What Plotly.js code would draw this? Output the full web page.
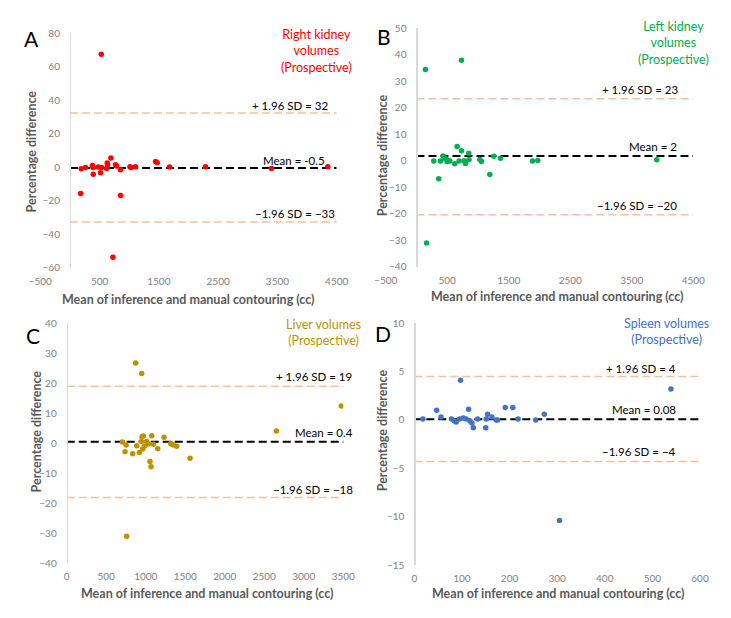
<!DOCTYPE html>
<html>
<head>
<meta charset="utf-8">
<script src="https://cdn.plot.ly/plotly-3.0.1.min.js"></script>
<style>html,body{margin:0;padding:0;background:#fff;}#chart{width:731px;height:618px;}</style>
</head>
<body>
<div id="chart"></div>
<script>
// ---- Data ----
// Panel A: Right kidney volumes
const rkX = [528, 190, 180, 263, 380, 388, 393, 480, 516, 533, 618, 629, 635, 691, 769, 786, 853, 853, 725, 1012, 1030, 1106, 1444, 1472, 1680, 2287, 3400, 4350];
const rkY = [67.3, -1, -15.8, -0.2, 1, -0.2, -4.2, 0, -3.4, -0.2, -0.8, 2.4, 1.2, 5.4, 1.4, 0.6, -1.6, -17, -53.8, 0.2, -0.2, 0.2, 3.4, 2.6, 0, 0.2, -0.8, 0.2];
const rkLimits = [-0.5, 32.3, -32.8]; // mean, +1.96SD, -1.96SD

// Panel B: Left kidney volumes
const lkX = [146, 731, 163, 363, 281, 390, 433, 460, 488, 498, 530, 542, 623, 660, 693, 732, 774, 797, 850, 855, 1029, 1057, 1192, 1257, 1366, 1885, 1972, 3906];
const lkY = [34.4, 37.9, -31.1, -6.8, -0.1, -0.1, 1.8, 0.9, 0.5, -0.3, 0, -0.1, -1.1, 5.4, -0.1, 3.8, 0, -1, 2.8, 0.4, 0.5, -0.3, -5.2, 1.7, 0.9, -0.1, 0.1, 0.4];
const lkLimits = [1.8, 23.4, -20.4];

// Panel C: Liver volumes
const lvX = [873, 949, 759, 704, 738, 751, 835, 886, 919, 945, 954, 970, 962, 983, 1012, 1033, 1054, 1067, 1076, 1096, 1152, 1232, 1316, 1333, 1349, 1392, 1561, 2653, 3475];
const lvY = [26.8, 23.3, -31, 0.4, -2.8, -0.6, -3.5, -0.8, -3.1, 0.6, 2.2, 2.4, -1.9, -1, 0.6, -0.2, -6.1, -7.8, 2.5, -0.3, -1.8, 2, -0.1, -0.3, -0.6, -1, -5, 4.1, 12.4];
const lvLimits = [0.5, 19, -18.1];

// Panel D: Spleen volumes
const spX = [18, 47, 56, 78, 84, 88, 95, 97, 103, 109, 114, 117, 121, 124, 133, 150, 151, 154, 163, 172, 175, 191, 207, 218, 255, 273, 305, 539];
const spY = [0.1, 1, 0.3, 0.1, -0.1, -0.2, 0.1, 4.1, 0.2, 0.1, 1.1, -0.1, -0.3, -0.8, 0.1, -0.8, 0.1, 0.6, 0.3, 0, 0, 1.3, 1.3, 0.1, 0, 0.6, -10.4, 3.2];
const spLimits = [0.08, 4.5, -4.3];

// Axis ranges / ticks
const rkXRange = [-500, 4500], rkYRange = [-60, 80], rkYTick = 20;
const lkXRange = [-500, 4500], lkYRange = [-40, 50], lkYTick = 10;
const lvXRange = [0, 3500], lvYRange = [-40, 40], lvYTick = 10;
const spXRange = [0, 600], spYRange = [-15, 10], spYTick = 5;
const rkXTick = 1000, lkXTick = 1000, lvXTick = 500, spXTick = 100;

// Text
const rkTitle = 'Right kidney<br>volumes<br>(Prospective)';
const lkTitle = 'Left kidney<br>volumes<br>(Prospective)';
const lvTitle = 'Liver volumes<br>(Prospective)';
const spTitle = 'Spleen volumes<br>(Prospective)';
const rkLabels = ['Mean = -0.5', '+ 1.96 SD = 32', '\u22121.96 SD = \u221233'];
const lkLabels = ['Mean = 2', '+ 1.96 SD = 23', '\u22121.96 SD = \u221220'];
const lvLabels = ['Mean = 0.4', '+ 1.96 SD = 19', '\u22121.96 SD = \u221218'];
const spLabels = ['Mean = 0.08', '+ 1.96 SD = 4', '\u22121.96 SD = \u22124'];
const xTitle = 'Mean of inference and manual contouring (cc)';
const yTitle = 'Percentage difference';

// ---- Layout geometry (pixels) ----
const W = 731, H = 618;
const FONT = 'Lato, "Open Sans", sans-serif';
const px = p => p / W, py = p => 1 - p / H;

const panels = [
  {id:'', letter:'A', color:'#ff0000', x:rkX, y:rkY, lim:rkLimits, xr:rkXRange, yr:rkYRange, xd:rkXTick, yd:rkYTick,
   box:[40.3, 336.7, 33, 267.7], title:rkTitle, tpos:[316.7, 51], labels:rkLabels,
   lpos:[[327,160],[330,106],[337,213.3]], lpos2:[31.7,38.3], xt:[188,299], yt:[31.7,151.7], lineEnd:4500},
  {id:'2', letter:'B', color:'#00b050', x:lkX, y:lkY, lim:lkLimits, xr:lkXRange, yr:lkYRange, xd:lkXTick, yd:lkYTick,
   box:[385.7, 693.3, 28.3, 266.7], title:lkTitle, tpos:[673, 43.5], labels:lkLabels,
   lpos:[[678.7,146.7],[680.3,89.3],[678.7,205]], lpos2:[384,36.7], xt:[557,296.7], yt:[383.3,155], lineEnd:4500},
  {id:'3', letter:'C', color:'#bf9000', x:lvX, y:lvY, lim:lvLimits, xr:lvXRange, yr:lvYRange, xd:lvXTick, yd:lvYTick,
   box:[66.7, 343.3, 323.3, 563.3], title:lvTitle, tpos:[323, 332.5], labels:lvLabels,
   lpos:[[355.3,432.3],[353.7,376.7],[354.7,489.3]], lpos2:[33,335], xt:[207,593], yt:[36.7,431.7], lineEnd:3560},
  {id:'4', letter:'D', color:'#4472c4', x:spX, y:spY, lim:spLimits, xr:spXRange, yr:spYRange, xd:spXTick, yd:spYTick,
   box:[414.3, 700, 323.3, 565], title:spTitle, tpos:[666.7, 332], labels:spLabels,
   lpos:[[677.7,409.3],[677.7,368.3],[677.7,451.7]], lpos2:[383,333], xt:[558,593], yt:[383.3,430], lineEnd:606}
];

const traces = [];
const layout = {
  width: W, height: H,
  margin: {l:0, r:0, t:0, b:0},
  paper_bgcolor: '#ffffff', plot_bgcolor: 'rgba(0,0,0,0)',
  showlegend: false,
  font: {family: FONT, color: '#000'},
  annotations: []
};

panels.forEach(p => {
  const xa = 'x' + p.id, ya = 'y' + p.id;
  const [x0, x1, yTop, yBot] = p.box;
  const xdom = [px(x0), px(x1)];
  const ydom = [py(yBot), py(yTop)];
  const yPos = xdom[0] + (0 - p.xr[0]) / (p.xr[1] - p.xr[0]) * (xdom[1] - xdom[0]);

  // limit lines
  const lineX = [0, p.lineEnd];
  traces.push({x: lineX, y: [p.lim[1], p.lim[1]], xaxis: xa, yaxis: ya, mode: 'lines', hoverinfo: 'skip',
               line: {color: '#f8bf9c', width: 1.5, dash: '8px,4px'}});
  traces.push({x: lineX, y: [p.lim[2], p.lim[2]], xaxis: xa, yaxis: ya, mode: 'lines', hoverinfo: 'skip',
               line: {color: '#f8bf9c', width: 1.5, dash: '8px,4px'}});
  traces.push({x: lineX, y: [p.lim[0], p.lim[0]], xaxis: xa, yaxis: ya, mode: 'lines', hoverinfo: 'skip',
               line: {color: '#000000', width: 2, dash: '8px,4px'}});
  // points
  traces.push({x: p.x, y: p.y, xaxis: xa, yaxis: ya, mode: 'markers', type: 'scatter',
               marker: {color: p.color, size: 5.5}});

  layout['xaxis' + p.id] = {
    domain: xdom, range: p.xr, anchor: ya, tick0: p.xr[0], dtick: p.xd,
    showgrid: false, zeroline: false, showline: false, ticks: '',
    ticklabelstandoff: 6,
    tickfont: {size: 10, color: '#7f7f7f', family: FONT}, fixedrange: true
  };
  layout['yaxis' + p.id] = {
    domain: ydom, range: p.yr, anchor: 'free', position: yPos, tick0: p.yr[0], dtick: p.yd,
    showgrid: false, zeroline: false, showline: true, linecolor: '#d9d9d9', linewidth: 1.5, ticks: '',
    ticklabelstandoff: 8,
    tickfont: {size: 10, color: '#7f7f7f', family: FONT}, fixedrange: true
  };

  const ann = layout.annotations;
  ann.push({xref:'paper', yref:'paper', x: px(p.lpos2[0]), y: py(p.lpos2[1]), text: p.letter, showarrow:false,
            xanchor:'center', yanchor:'middle', font:{size:21, color:'#000', family: FONT}});
  ann.push({xref:'paper', yref:'paper', x: px(p.tpos[0]), y: py(p.tpos[1]), text: p.title, showarrow:false,
            xanchor:'center', yanchor:'middle', align:'center', font:{size:12.5, color:p.color, family: FONT}});
  p.labels.forEach((t, i) => {
    ann.push({xref:'paper', yref:'paper', x: px(p.lpos[i][0]), y: py(p.lpos[i][1]), text: t, showarrow:false,
              xanchor:'right', yanchor:'middle', font:{size:11.5, color:'#000', family: FONT}});
  });
  ann.push({xref:'paper', yref:'paper', x: px(p.xt[0]), y: py(p.xt[1]), text: '<b>' + xTitle + '</b>', showarrow:false,
            xanchor:'center', yanchor:'middle', font:{size:12.5, color:'#595959', family: FONT}});
  ann.push({xref:'paper', yref:'paper', x: px(p.yt[0]), y: py(p.yt[1]), text: '<b>' + yTitle + '</b>', showarrow:false,
            textangle:-90, xanchor:'center', yanchor:'middle', font:{size:12.5, color:'#595959', family: FONT}});
});

Plotly.newPlot('chart', traces, layout, {staticPlot: true, displayModeBar: false});
</script>
</body>
</html>
